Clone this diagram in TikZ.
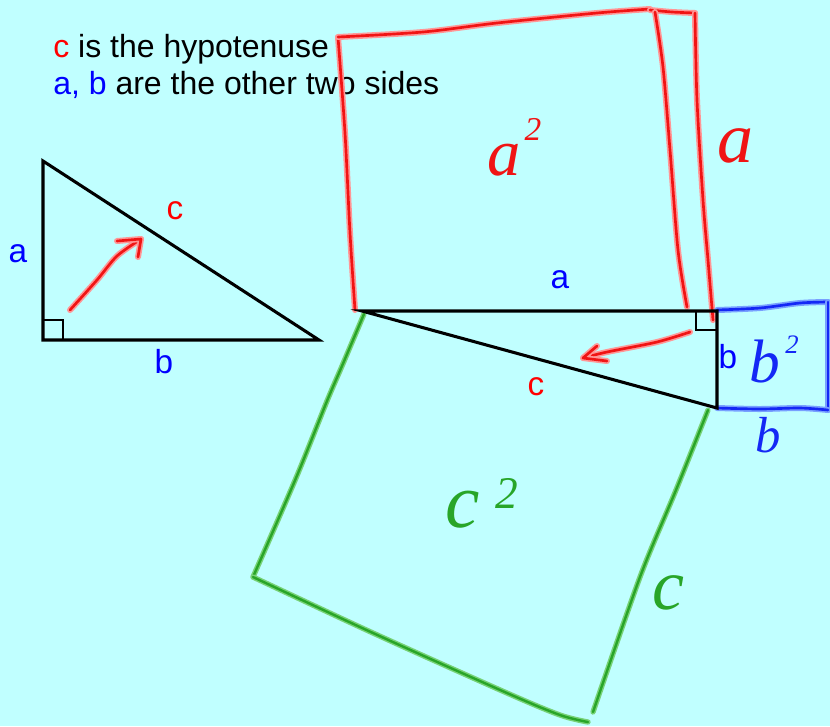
\documentclass[tikz,border=0pt]{standalone}
\usepackage{fontspec}
\setmainfont{Liberation Sans}
\newfontfamily\hand{Liberation Serif}
\usetikzlibrary{calc}
\definecolor{bg}{RGB}{192,255,255}
\definecolor{pred}{RGB}{240,20,20}
\definecolor{predglow}{RGB}{255,150,150}
\definecolor{pblue}{RGB}{20,40,245}
\definecolor{pblueglow}{RGB}{120,160,255}
\definecolor{pgreen}{RGB}{40,165,40}
\definecolor{pgreenglow}{RGB}{120,210,120}
\definecolor{tred}{RGB}{255,0,0}
\definecolor{tblue}{RGB}{0,0,255}
\tikzset{
  redpen/.style={preaction={draw=predglow,line width=4.5pt,line cap=round,line join=round},draw=pred,line width=2pt,line cap=round,line join=round},
  bluepen/.style={preaction={draw=pblueglow,line width=4.5pt,line cap=round,line join=round},draw=pblue,line width=2pt,line cap=round,line join=round},
  greenpen/.style={preaction={draw=pgreenglow,line width=4pt,line cap=round,line join=round},draw=pgreen,line width=1.8pt,line cap=round,line join=round},
  blackline/.style={draw=black,line width=2.3pt,line join=miter},
  sq/.style={draw=black,line width=2.2pt},
  maintext/.style={inner sep=0pt,anchor=base west,font=\fontsize{24}{28}\selectfont},
  lbl/.style={inner sep=0pt,anchor=base,font=\fontsize{25}{30}\selectfont},
  hw/.style={inner sep=0pt,anchor=base,font=\hand\itshape\fontsize{#1}{#1}\selectfont},
}
\begin{document}
\begin{tikzpicture}[x=0.75pt,y=-0.75pt]
\useasboundingbox (0,0) rectangle (830,726);
\fill[bg] (0,0) rectangle (830,726);

% header text
\node[maintext] (t1) at (53,57) {\textcolor{tred}{c} is the hypotenuse};
\node[maintext] (t2) at (53,94) {\textcolor{tblue}{a, b} are the other two sides};

% small triangle
\coordinate (P) at (43,161);
\coordinate (Q) at (43,340);
\coordinate (R) at (319,340);
\draw[blackline] (P) -- (Q) -- (R) -- cycle;
\draw[sq] ($(Q)+(0,-20)$) -| ($(Q)+(20,0)$);
\node[lbl,text=tblue] (la) at (18,262) {a};
\node[lbl,text=tblue] (lb) at (164,373) {b};
\node[lbl,text=tred] (lc) at (175,219) {c};
% red arrow small
\coordinate (s1) at (70,310);
\coordinate (s2) at (141,239);
\draw[redpen] plot[smooth] coordinates {(s1) (97,280) (117,256) (s2)};
\draw[redpen] (117,241) -- (s2) -- (138,257);

% red square a^2
\draw[redpen] plot[smooth] coordinates {(355,310) (350,233) (345,133) (338,37)};
\draw[redpen] plot[smooth] coordinates {(338,37) (423,32) (497,23) (597,13) (650,9)};
\draw[redpen] plot[smooth] coordinates {(650,10) (672,12) (695,13)};
\draw[redpen] plot[smooth] coordinates {(655,12) (663,67) (670,150) (678,250) (687,307)};
\draw[redpen] plot[smooth] coordinates {(695,13) (697,100) (703,200) (708,260) (713,320)};

% blue square b^2
\draw[bluepen] plot[smooth] coordinates {(717,310) (760,308) (800,303) (828,302)};
\draw[bluepen] (828,302) -- (828,410);
\draw[bluepen] plot[smooth] coordinates {(717,408) (760,409) (800,408) (828,410)};

% green square c^2
\draw[greenpen] plot[smooth] coordinates {(364,314) (342,366) (327,401) (296,478) (253,577)};
\draw[greenpen] plot[smooth] coordinates {(253,577) (373,633) (507,693) (560,715) (588,722)};
\draw[greenpen] plot[smooth] coordinates {(593,712) (640,577) (676,490) (708,410)};

% big triangle
\coordinate (A) at (362,311);
\coordinate (C) at (717,311);
\coordinate (B) at (717,408);
\draw[blackline] (A) -- (C) -- (B) -- cycle;
\draw[sq] ($(C)+(-21,0)$) |- ($(C)+(0,19)$);
\node[lbl,text=tblue] (ba) at (560,288) {a};
\node[lbl,text=tblue] (bb) at (728,368) {b};
\node[lbl,text=tred] (bc) at (536,395) {c};
% red arrow big
\coordinate (r1) at (690,332);
\coordinate (r2) at (583,358);
\draw[redpen] plot[smooth] coordinates {(r1) (657,342) (607,352) (r2)};
\draw[redpen] (597,346) -- (r2) -- (607,361);

% handwritten labels
\node[hw=50,text=pred] (ha) at (504,175) {a};
\node[hw=25,text=pred] (ha2) at (533,140) {2};
\node[hw=54,text=pred] (hra) at (735,162) {a};
\node[hw=46,text=pblue] (hb) at (765,382) {b};
\node[hw=20,text=pblue] (hb2) at (792,353) {2};
\node[hw=38,text=pblue] (hlb) at (768,452) {b};
\node[hw=58,text=pgreen] (hc) at (463,527) {c};
\node[hw=34,text=pgreen] (hc2) at (507,508) {2};
\node[hw=54,text=pgreen] (hrc) at (668,609) {c};
\end{tikzpicture}
\end{document}
